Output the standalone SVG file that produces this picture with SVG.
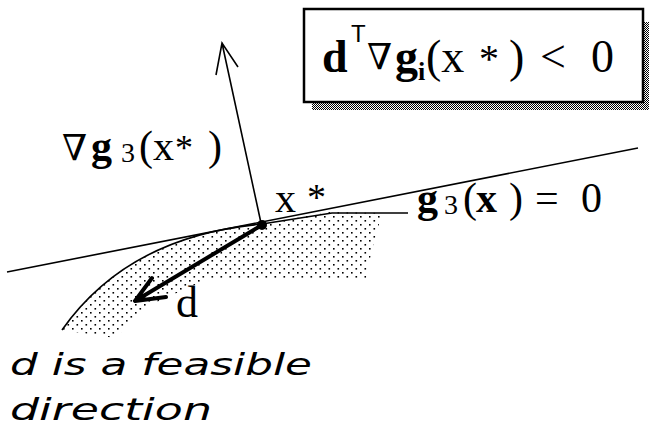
<svg xmlns="http://www.w3.org/2000/svg" width="649" height="434" viewBox="0 0 649 434">
<style>
.m{font-family:"Liberation Serif","DejaVu Serif",serif;fill:#000}
.b{font-weight:bold}
.nab{font-family:"DejaVu Serif","Liberation Serif",serif}
.s{font-family:"Liberation Sans","DejaVu Sans",sans-serif}
.cap{font-family:"DejaVu Sans","Liberation Sans",sans-serif;font-style:oblique;font-size:31px;fill:#000}
.ln{fill:none;stroke:#000;stroke-width:1.6}
.thick{fill:none;stroke:#000;stroke-width:4;stroke-linecap:round;stroke-linejoin:round}
</style>
<defs>
<pattern id="stip" width="9" height="8" patternUnits="userSpaceOnUse">
<rect x="0" y="0" width="1.6" height="1.6" fill="#000"/>
<rect x="4.5" y="4" width="1.6" height="1.6" fill="#000"/>
</pattern>
<pattern id="shade" width="2" height="2" patternUnits="userSpaceOnUse">
<rect x="0" y="0" width="1" height="1" fill="#000"/>
<rect x="1" y="1" width="1" height="1" fill="#000"/>
</pattern>
</defs>
<rect width="649" height="434" fill="#fff"/>

<g id="feasible-region">
<path d="M62,330 Q128,236 262,224 L330,212 L382,213 L372,250 L366,278 L210,278 L150,305 L115,338 Z" fill="url(#stip)"/>
</g>

<g id="connectors">
<path id="tangent-line" class="ln" d="M7,272 L638,148"/>
<path id="level-curve" class="ln" d="M62,330 Q128,236 262,224 L332,213 L408,213"/>
<path id="gradient-arrow" class="ln" d="M261,223 L222,43 M216,75 L222,43 L238,67"/>
<path id="d-arrow" class="thick" d="M262,225 L135,301 M152,278 L135,301 L166,297"/>
</g>

<g id="xstar-point">
<circle cx="262" cy="225" r="5" fill="#000"/>
<text class="m" font-size="42" x="275" y="212">x</text>
<text class="m" font-size="38" x="307" y="210">*</text>
</g>

<g id="grad-label">
<text class="m" font-size="42" x="62" y="160"><tspan class="nab" font-size="36">∇</tspan><tspan class="b" x="91">g</tspan><tspan font-size="28" x="121" y="162">3</tspan><tspan x="139" y="160">(x</tspan><tspan x="175" font-size="36">*</tspan><tspan x="208">)</tspan></text>
</g>

<g id="level-label">
<text class="m" font-size="42" x="417" y="212"><tspan class="b">g</tspan><tspan font-size="28" x="444" y="214">3</tspan><tspan x="463" y="212">(</tspan><tspan class="b" x="476">x</tspan><tspan x="509">)</tspan><tspan x="535">=</tspan><tspan x="581">0</tspan></text>
</g>

<g id="d-label">
<text class="m" font-size="44" x="176" y="317">d</text>
</g>

<g id="condition-box">
<rect x="312" y="102" width="337" height="8" fill="url(#shade)"/>
<rect x="643" y="22" width="6" height="88" fill="url(#shade)"/>
<rect x="304" y="9" width="339" height="93" fill="#fff" stroke="#000" stroke-width="2.5"/>
<text class="m" font-size="46" x="322" y="72"><tspan class="b">d</tspan><tspan class="s" font-size="24" x="351" y="42">T</tspan><tspan class="nab" font-size="36" x="367" y="69">∇</tspan><tspan class="b" x="395" y="72">g</tspan><tspan class="b" font-size="26" x="418" y="80">i</tspan><tspan x="426" y="72">(x</tspan><tspan font-size="40" x="479">*</tspan><tspan x="509">)</tspan><tspan x="540">&lt;</tspan><tspan x="591">0</tspan></text>
</g>

<g id="caption">
<text class="cap" x="10" y="375" textLength="302" lengthAdjust="spacingAndGlyphs">d is a feasible</text>
<text class="cap" x="10" y="420" textLength="202" lengthAdjust="spacingAndGlyphs">direction</text>
</g>
</svg>
